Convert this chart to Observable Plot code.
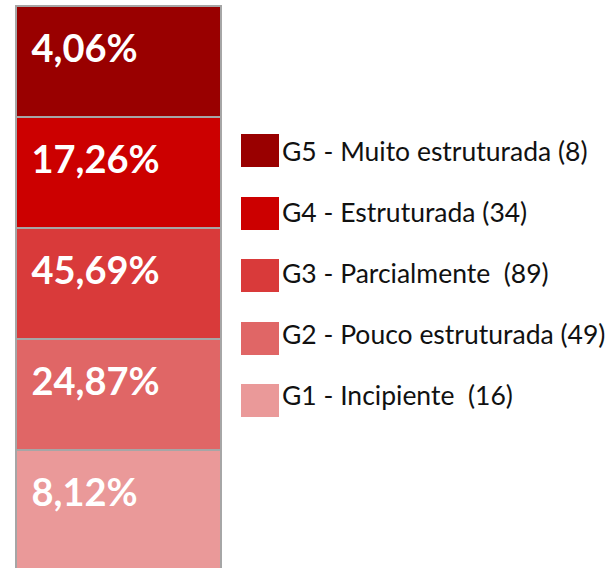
<!DOCTYPE html>
<html>
<head>
<meta charset="utf-8">
<script src="https://cdn.jsdelivr.net/npm/d3@7"></script>
<script src="https://cdn.jsdelivr.net/npm/@observablehq/plot@0.6"></script>
<style>
  html, body { margin: 0; padding: 0; background: #fff; overflow: hidden; }
  #wrap { position: relative; width: 607px; height: 568px; font-family: Lato, "Open Sans", sans-serif; }
  #legend { position: absolute; left: 241px; top: 0; }
  .sw { position: absolute; left: 0; width: 38px; height: 33px; }
  .lab { position: absolute; left: 41px; font-size: 26.5px; color: #111; line-height: 1; white-space: pre; }
</style>
</head>
<body>
<div id="wrap"></div>
<script>
const groups = ["G5", "G4", "G3", "G2", "G1"];
const names = ["Muito estruturada", "Estruturada", "Parcialmente ", "Pouco estruturada", "Incipiente "];
const percents = [4.06, 17.26, 45.69, 24.87, 8.12];
const counts = [8, 34, 89, 49, 16];
const colors = ["#990000", "#cc0000", "#d93a3a", "#e06666", "#ea9999"];

const data = groups.map((g, i) => ({
  cat: "Total",
  group: g,
  pct: percents[i],
  label: percents[i].toFixed(2).replace(".", ",") + "%"
}));

const chart = Plot.plot({
  width: 607,
  height: 568,
  margin: 0,
  x: { domain: ["Total"], range: [16, 221], padding: 0, axis: null },
  y: { domain: groups, range: [6, 561], padding: 0, axis: null },
  color: { domain: groups, range: colors },
  style: { fontFamily: "Lato, 'Open Sans', sans-serif", background: "transparent" },
  marks: [
    Plot.cell(data, {
      x: "cat", y: "group", fill: "group",
      stroke: "#a6a6a6", strokeWidth: 2,
      inset: 0, insetBottom: -14
    }),
    Plot.text(data, {
      y: "group", text: "label",
      frameAnchor: "left", dx: 31,
      textAnchor: "start", lineAnchor: "bottom", dy: 0,
      fill: "white", fontSize: 38, fontWeight: "bold"
    })
  ]
});

const wrap = document.getElementById("wrap");
wrap.appendChild(chart);

const legend = document.createElement("div");
legend.id = "legend";
groups.forEach((g, i) => {
  const top = 134 + i * 62.5;
  const sw = document.createElement("div");
  sw.className = "sw";
  sw.style.top = top + "px";
  sw.style.background = colors[i];
  legend.appendChild(sw);
  const lab = document.createElement("div");
  lab.className = "lab";
  lab.style.top = (138 + i * 61) + "px";
  lab.textContent = `${g} - ${names[i]} (${counts[i]})`;
  legend.appendChild(lab);
});
wrap.appendChild(legend);
</script>
</body>
</html>
